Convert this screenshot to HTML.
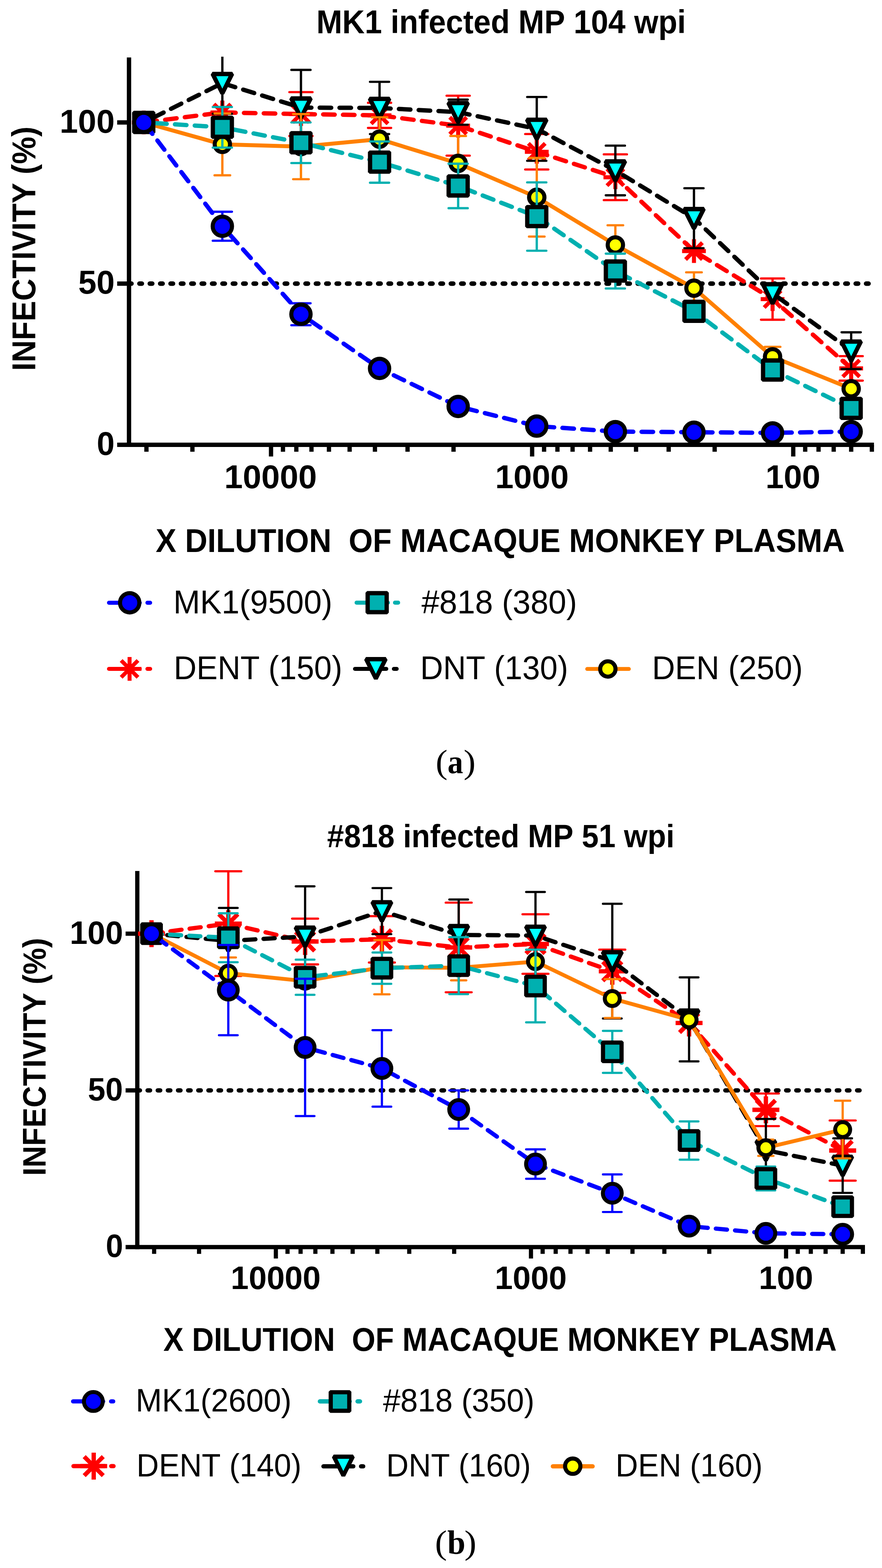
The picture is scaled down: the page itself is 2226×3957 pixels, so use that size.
<!DOCTYPE html>
<html><head><meta charset="utf-8"><title>Infectivity charts</title>
<style>html,body{margin:0;padding:0;background:#fff;}svg{display:block;}text{font-kerning:none;}</style>
</head><body>
<svg width="2226" height="3957" viewBox="0 0 2226 3957">
<g stroke="#000" stroke-width="11" fill="none">
<line x1="325.6" y1="145" x2="325.6" y2="1128"/>
<line x1="295.7" y1="1122.5" x2="2205.7" y2="1122.5"/>
<line x1="295.7" y1="715.75" x2="325.6" y2="715.75"/>
<line x1="295.7" y1="309" x2="325.6" y2="309"/>
</g>
<g fill="#000">
<rect x="678.6" y="1122.5" width="10.8" height="29.5"/>
<rect x="480.22" y="1122.5" width="10.8" height="17.5"/>
<rect x="364.18" y="1122.5" width="10.8" height="17.5"/>
<rect x="1337.6" y="1122.5" width="10.8" height="29.5"/>
<rect x="1139.22" y="1122.5" width="10.8" height="17.5"/>
<rect x="1023.18" y="1122.5" width="10.8" height="17.5"/>
<rect x="940.84" y="1122.5" width="10.8" height="17.5"/>
<rect x="876.98" y="1122.5" width="10.8" height="17.5"/>
<rect x="824.8" y="1122.5" width="10.8" height="17.5"/>
<rect x="780.68" y="1122.5" width="10.8" height="17.5"/>
<rect x="742.46" y="1122.5" width="10.8" height="17.5"/>
<rect x="708.75" y="1122.5" width="10.8" height="17.5"/>
<rect x="1996.6" y="1122.5" width="10.8" height="29.5"/>
<rect x="1798.22" y="1122.5" width="10.8" height="17.5"/>
<rect x="1682.18" y="1122.5" width="10.8" height="17.5"/>
<rect x="1599.84" y="1122.5" width="10.8" height="17.5"/>
<rect x="1535.98" y="1122.5" width="10.8" height="17.5"/>
<rect x="1483.8" y="1122.5" width="10.8" height="17.5"/>
<rect x="1439.68" y="1122.5" width="10.8" height="17.5"/>
<rect x="1401.46" y="1122.5" width="10.8" height="17.5"/>
<rect x="1367.75" y="1122.5" width="10.8" height="17.5"/>
<rect x="2194.98" y="1122.5" width="10.8" height="17.5"/>
<rect x="2142.8" y="1122.5" width="10.8" height="17.5"/>
<rect x="2098.68" y="1122.5" width="10.8" height="17.5"/>
<rect x="2060.46" y="1122.5" width="10.8" height="17.5"/>
<rect x="2026.75" y="1122.5" width="10.8" height="17.5"/>
</g>
<text x="150.55" y="334.7" font-family="'Liberation Sans', Arial, sans-serif" font-size="83.33" font-weight="bold" textLength="138.96" lengthAdjust="spacingAndGlyphs" xml:space="preserve">100</text>
<text x="197.46" y="741" font-family="'Liberation Sans', Arial, sans-serif" font-size="83.33" font-weight="bold" textLength="91.93" lengthAdjust="spacingAndGlyphs" xml:space="preserve">50</text>
<text x="244.3" y="1148.2" font-family="'Liberation Sans', Arial, sans-serif" font-size="83.33" font-weight="bold" textLength="45.02" lengthAdjust="spacingAndGlyphs" xml:space="preserve">0</text>
<text x="565.91" y="1231.7" font-family="'Liberation Sans', Arial, sans-serif" font-size="83.33" font-weight="bold" textLength="233.74" lengthAdjust="spacingAndGlyphs" xml:space="preserve">10000</text>
<text x="1249.64" y="1231.9" font-family="'Liberation Sans', Arial, sans-serif" font-size="83.33" font-weight="bold" textLength="185.79" lengthAdjust="spacingAndGlyphs" xml:space="preserve">1000</text>
<text x="1931.97" y="1232.2" font-family="'Liberation Sans', Arial, sans-serif" font-size="83.33" font-weight="bold" textLength="138.43" lengthAdjust="spacingAndGlyphs" xml:space="preserve">100</text>
<line x1="325.6" y1="715.75" x2="2199.7" y2="715.75" stroke="#000" stroke-width="11.3" stroke-linecap="round" stroke-dasharray="6.3 19.9" stroke-dashoffset="0"/>
<defs><clipPath id="aclip"><rect x="0" y="143" width="2226" height="3000"/></clipPath></defs>
<path d="M2148.2,929.7 L1949.82,754.8 L1751.44,633.59 L1553.06,447.3 L1354.68,383.03 L1156.3,317.13 L957.93,291.1 L759.55,287.85 L561.17,283.78 L362.79,309" fill="none" stroke="#ff0000" stroke-width="11" stroke-linecap="round" stroke-linejoin="round" stroke-dasharray="29 21"/>
<g stroke="#ff0000" clip-path="url(#aclip)"><line x1="759.55" y1="232.53" x2="759.55" y2="343.17" stroke-width="5.8"/><line x1="730.35" y1="232.53" x2="788.75" y2="232.53" stroke-width="5.6" stroke-linecap="round"/><line x1="730.35" y1="343.17" x2="788.75" y2="343.17" stroke-width="5.6" stroke-linecap="round"/><line x1="957.93" y1="259.38" x2="957.93" y2="322.83" stroke-width="5.8"/><line x1="928.73" y1="259.38" x2="987.13" y2="259.38" stroke-width="5.6" stroke-linecap="round"/><line x1="928.73" y1="322.83" x2="987.13" y2="322.83" stroke-width="5.6" stroke-linecap="round"/><line x1="1156.3" y1="241.48" x2="1156.3" y2="392.79" stroke-width="5.8"/><line x1="1127.1" y1="241.48" x2="1185.5" y2="241.48" stroke-width="5.6" stroke-linecap="round"/><line x1="1127.1" y1="392.79" x2="1185.5" y2="392.79" stroke-width="5.6" stroke-linecap="round"/><line x1="1354.68" y1="338.29" x2="1354.68" y2="427.77" stroke-width="5.8"/><line x1="1325.48" y1="338.29" x2="1383.88" y2="338.29" stroke-width="5.6" stroke-linecap="round"/><line x1="1325.48" y1="427.77" x2="1383.88" y2="427.77" stroke-width="5.6" stroke-linecap="round"/><line x1="1553.06" y1="389.54" x2="1553.06" y2="505.05" stroke-width="5.8"/><line x1="1523.86" y1="389.54" x2="1582.26" y2="389.54" stroke-width="5.6" stroke-linecap="round"/><line x1="1523.86" y1="505.05" x2="1582.26" y2="505.05" stroke-width="5.6" stroke-linecap="round"/><line x1="1949.82" y1="702.73" x2="1949.82" y2="806.86" stroke-width="5.8"/><line x1="1920.62" y1="702.73" x2="1979.02" y2="702.73" stroke-width="5.6" stroke-linecap="round"/><line x1="1920.62" y1="806.86" x2="1979.02" y2="806.86" stroke-width="5.6" stroke-linecap="round"/><line x1="2148.2" y1="898.79" x2="2148.2" y2="960.61" stroke-width="5.8"/><line x1="2119" y1="898.79" x2="2177.4" y2="898.79" stroke-width="5.6" stroke-linecap="round"/><line x1="2119" y1="960.61" x2="2177.4" y2="960.61" stroke-width="5.6" stroke-linecap="round"/></g>
<line x1="332.79" y1="309" x2="392.79" y2="309" stroke="#ff0000" stroke-width="10.2"/><line x1="362.79" y1="279" x2="362.79" y2="339" stroke="#ff0000" stroke-width="10.2"/><line x1="341.58" y1="287.79" x2="384" y2="330.21" stroke="#ff0000" stroke-width="10.2"/><line x1="341.58" y1="330.21" x2="384" y2="287.79" stroke="#ff0000" stroke-width="10.2"/>
<line x1="531.17" y1="283.78" x2="591.17" y2="283.78" stroke="#ff0000" stroke-width="10.2"/><line x1="561.17" y1="253.78" x2="561.17" y2="313.78" stroke="#ff0000" stroke-width="10.2"/><line x1="539.95" y1="262.57" x2="582.38" y2="304.99" stroke="#ff0000" stroke-width="10.2"/><line x1="539.95" y1="304.99" x2="582.38" y2="262.57" stroke="#ff0000" stroke-width="10.2"/>
<line x1="729.55" y1="287.85" x2="789.55" y2="287.85" stroke="#ff0000" stroke-width="10.2"/><line x1="759.55" y1="257.85" x2="759.55" y2="317.85" stroke="#ff0000" stroke-width="10.2"/><line x1="738.33" y1="266.64" x2="780.76" y2="309.06" stroke="#ff0000" stroke-width="10.2"/><line x1="738.33" y1="309.06" x2="780.76" y2="266.64" stroke="#ff0000" stroke-width="10.2"/>
<line x1="927.93" y1="291.1" x2="987.93" y2="291.1" stroke="#ff0000" stroke-width="10.2"/><line x1="957.93" y1="261.1" x2="957.93" y2="321.1" stroke="#ff0000" stroke-width="10.2"/><line x1="936.71" y1="269.89" x2="979.14" y2="312.32" stroke="#ff0000" stroke-width="10.2"/><line x1="936.71" y1="312.32" x2="979.14" y2="269.89" stroke="#ff0000" stroke-width="10.2"/>
<line x1="1126.3" y1="317.13" x2="1186.3" y2="317.13" stroke="#ff0000" stroke-width="10.2"/><line x1="1156.3" y1="287.13" x2="1156.3" y2="347.13" stroke="#ff0000" stroke-width="10.2"/><line x1="1135.09" y1="295.92" x2="1177.52" y2="338.35" stroke="#ff0000" stroke-width="10.2"/><line x1="1135.09" y1="338.35" x2="1177.52" y2="295.92" stroke="#ff0000" stroke-width="10.2"/>
<line x1="1324.68" y1="383.03" x2="1384.68" y2="383.03" stroke="#ff0000" stroke-width="10.2"/><line x1="1354.68" y1="353.03" x2="1354.68" y2="413.03" stroke="#ff0000" stroke-width="10.2"/><line x1="1333.47" y1="361.82" x2="1375.9" y2="404.24" stroke="#ff0000" stroke-width="10.2"/><line x1="1333.47" y1="404.24" x2="1375.9" y2="361.82" stroke="#ff0000" stroke-width="10.2"/>
<line x1="1523.06" y1="447.3" x2="1583.06" y2="447.3" stroke="#ff0000" stroke-width="10.2"/><line x1="1553.06" y1="417.3" x2="1553.06" y2="477.3" stroke="#ff0000" stroke-width="10.2"/><line x1="1531.85" y1="426.08" x2="1574.28" y2="468.51" stroke="#ff0000" stroke-width="10.2"/><line x1="1531.85" y1="468.51" x2="1574.28" y2="426.08" stroke="#ff0000" stroke-width="10.2"/>
<line x1="1721.44" y1="633.59" x2="1781.44" y2="633.59" stroke="#ff0000" stroke-width="10.2"/><line x1="1751.44" y1="603.59" x2="1751.44" y2="663.59" stroke="#ff0000" stroke-width="10.2"/><line x1="1730.23" y1="612.37" x2="1772.65" y2="654.8" stroke="#ff0000" stroke-width="10.2"/><line x1="1730.23" y1="654.8" x2="1772.65" y2="612.37" stroke="#ff0000" stroke-width="10.2"/>
<line x1="1919.82" y1="754.8" x2="1979.82" y2="754.8" stroke="#ff0000" stroke-width="10.2"/><line x1="1949.82" y1="724.8" x2="1949.82" y2="784.8" stroke="#ff0000" stroke-width="10.2"/><line x1="1928.61" y1="733.58" x2="1971.03" y2="776.01" stroke="#ff0000" stroke-width="10.2"/><line x1="1928.61" y1="776.01" x2="1971.03" y2="733.58" stroke="#ff0000" stroke-width="10.2"/>
<line x1="2118.2" y1="929.7" x2="2178.2" y2="929.7" stroke="#ff0000" stroke-width="10.2"/><line x1="2148.2" y1="899.7" x2="2148.2" y2="959.7" stroke="#ff0000" stroke-width="10.2"/><line x1="2126.99" y1="908.49" x2="2169.41" y2="950.91" stroke="#ff0000" stroke-width="10.2"/><line x1="2126.99" y1="950.91" x2="2169.41" y2="908.49" stroke="#ff0000" stroke-width="10.2"/>
<path d="M2148.2,884.96 L1949.82,740.15 L1751.44,550.61 L1553.06,430.21 L1354.68,325.27 L1156.3,282.97 L957.93,272.39 L759.55,271.58 L561.17,209.75 L362.79,309" fill="none" stroke="#000000" stroke-width="11" stroke-linecap="round" stroke-linejoin="round" stroke-dasharray="29 21"/>
<g stroke="#000000" clip-path="url(#aclip)"><line x1="561.17" y1="132.47" x2="561.17" y2="287.04" stroke-width="5.8"/><line x1="536.97" y1="132.47" x2="585.37" y2="132.47" stroke-width="5.6" stroke-linecap="round"/><line x1="536.97" y1="287.04" x2="585.37" y2="287.04" stroke-width="5.6" stroke-linecap="round"/><line x1="759.55" y1="176.4" x2="759.55" y2="366.76" stroke-width="5.8"/><line x1="735.35" y1="176.4" x2="783.75" y2="176.4" stroke-width="5.6" stroke-linecap="round"/><line x1="735.35" y1="366.76" x2="783.75" y2="366.76" stroke-width="5.6" stroke-linecap="round"/><line x1="957.93" y1="206.5" x2="957.93" y2="338.29" stroke-width="5.8"/><line x1="933.73" y1="206.5" x2="982.13" y2="206.5" stroke-width="5.6" stroke-linecap="round"/><line x1="933.73" y1="338.29" x2="982.13" y2="338.29" stroke-width="5.6" stroke-linecap="round"/><line x1="1156.3" y1="251.24" x2="1156.3" y2="314.69" stroke-width="5.8"/><line x1="1132.1" y1="251.24" x2="1180.5" y2="251.24" stroke-width="5.6" stroke-linecap="round"/><line x1="1132.1" y1="314.69" x2="1180.5" y2="314.69" stroke-width="5.6" stroke-linecap="round"/><line x1="1354.68" y1="244.73" x2="1354.68" y2="405.81" stroke-width="5.8"/><line x1="1330.48" y1="244.73" x2="1378.88" y2="244.73" stroke-width="5.6" stroke-linecap="round"/><line x1="1330.48" y1="405.81" x2="1378.88" y2="405.81" stroke-width="5.6" stroke-linecap="round"/><line x1="1553.06" y1="367.57" x2="1553.06" y2="492.85" stroke-width="5.8"/><line x1="1528.86" y1="367.57" x2="1577.26" y2="367.57" stroke-width="5.6" stroke-linecap="round"/><line x1="1528.86" y1="492.85" x2="1577.26" y2="492.85" stroke-width="5.6" stroke-linecap="round"/><line x1="1751.44" y1="474.95" x2="1751.44" y2="626.26" stroke-width="5.8"/><line x1="1727.24" y1="474.95" x2="1775.64" y2="474.95" stroke-width="5.6" stroke-linecap="round"/><line x1="1727.24" y1="626.26" x2="1775.64" y2="626.26" stroke-width="5.6" stroke-linecap="round"/><line x1="2148.2" y1="838.59" x2="2148.2" y2="931.33" stroke-width="5.8"/><line x1="2124" y1="838.59" x2="2172.4" y2="838.59" stroke-width="5.6" stroke-linecap="round"/><line x1="2124" y1="931.33" x2="2172.4" y2="931.33" stroke-width="5.6" stroke-linecap="round"/></g>
<polygon points="337.79,280.5 387.79,280.5 392.29,288 367.39,337.5 358.19,337.5 333.29,288" fill="#000"/><polygon points="347.19,291.6 378.39,291.6 362.79,323" fill="#00ffff"/>
<polygon points="536.17,181.25 586.17,181.25 590.67,188.75 565.77,238.25 556.57,238.25 531.67,188.75" fill="#000"/><polygon points="545.57,192.35 576.77,192.35 561.17,223.75" fill="#00ffff"/>
<polygon points="734.55,243.08 784.55,243.08 789.05,250.58 764.15,300.08 754.95,300.08 730.05,250.58" fill="#000"/><polygon points="743.95,254.18 775.15,254.18 759.55,285.58" fill="#00ffff"/>
<polygon points="932.93,243.89 982.93,243.89 987.43,251.39 962.53,300.89 953.33,300.89 928.43,251.39" fill="#000"/><polygon points="942.33,254.99 973.53,254.99 957.93,286.39" fill="#00ffff"/>
<polygon points="1131.3,254.47 1181.3,254.47 1185.8,261.97 1160.9,311.47 1151.7,311.47 1126.8,261.97" fill="#000"/><polygon points="1140.7,265.57 1171.9,265.57 1156.3,296.97" fill="#00ffff"/>
<polygon points="1329.68,296.77 1379.68,296.77 1384.18,304.27 1359.28,353.77 1350.08,353.77 1325.18,304.27" fill="#000"/><polygon points="1339.08,307.87 1370.28,307.87 1354.68,339.27" fill="#00ffff"/>
<polygon points="1528.06,401.71 1578.06,401.71 1582.56,409.21 1557.66,458.71 1548.46,458.71 1523.56,409.21" fill="#000"/><polygon points="1537.46,412.81 1568.66,412.81 1553.06,444.21" fill="#00ffff"/>
<polygon points="1726.44,522.11 1776.44,522.11 1780.94,529.61 1756.04,579.11 1746.84,579.11 1721.94,529.61" fill="#000"/><polygon points="1735.84,533.21 1767.04,533.21 1751.44,564.61" fill="#00ffff"/>
<polygon points="1924.82,711.65 1974.82,711.65 1979.32,719.15 1954.42,768.65 1945.22,768.65 1920.32,719.15" fill="#000"/><polygon points="1934.22,722.75 1965.42,722.75 1949.82,754.15" fill="#00ffff"/>
<polygon points="2123.2,856.46 2173.2,856.46 2177.7,863.96 2152.8,913.46 2143.6,913.46 2118.7,863.96" fill="#000"/><polygon points="2132.6,867.56 2163.8,867.56 2148.2,898.96" fill="#00ffff"/>
<path d="M2148.2,980.95 L1949.82,900.41 L1751.44,727.14 L1553.06,618.13 L1354.68,497.73 L1156.3,412.31 L957.93,351.3 L759.55,370.01 L561.17,364.32 L362.79,309" fill="none" stroke="#ff8000" stroke-width="10" stroke-linejoin="round"/>
<g stroke="#ff8000" clip-path="url(#aclip)"><line x1="561.17" y1="286.22" x2="561.17" y2="442.41" stroke-width="5.8"/><line x1="541.47" y1="286.22" x2="580.87" y2="286.22" stroke-width="5.6" stroke-linecap="round"/><line x1="541.47" y1="442.41" x2="580.87" y2="442.41" stroke-width="5.6" stroke-linecap="round"/><line x1="759.55" y1="287.85" x2="759.55" y2="452.18" stroke-width="5.8"/><line x1="739.85" y1="287.85" x2="779.25" y2="287.85" stroke-width="5.6" stroke-linecap="round"/><line x1="739.85" y1="452.18" x2="779.25" y2="452.18" stroke-width="5.6" stroke-linecap="round"/><line x1="957.93" y1="295.98" x2="957.93" y2="406.62" stroke-width="5.8"/><line x1="938.23" y1="295.98" x2="977.63" y2="295.98" stroke-width="5.6" stroke-linecap="round"/><line x1="938.23" y1="406.62" x2="977.63" y2="406.62" stroke-width="5.6" stroke-linecap="round"/><line x1="1156.3" y1="343.17" x2="1156.3" y2="481.46" stroke-width="5.8"/><line x1="1136.6" y1="343.17" x2="1176" y2="343.17" stroke-width="5.6" stroke-linecap="round"/><line x1="1136.6" y1="481.46" x2="1176" y2="481.46" stroke-width="5.6" stroke-linecap="round"/><line x1="1354.68" y1="398.49" x2="1354.68" y2="596.98" stroke-width="5.8"/><line x1="1334.98" y1="398.49" x2="1374.38" y2="398.49" stroke-width="5.6" stroke-linecap="round"/><line x1="1334.98" y1="596.98" x2="1374.38" y2="596.98" stroke-width="5.6" stroke-linecap="round"/><line x1="1553.06" y1="568.51" x2="1553.06" y2="667.75" stroke-width="5.8"/><line x1="1533.36" y1="568.51" x2="1572.76" y2="568.51" stroke-width="5.6" stroke-linecap="round"/><line x1="1533.36" y1="667.75" x2="1572.76" y2="667.75" stroke-width="5.6" stroke-linecap="round"/><line x1="1751.44" y1="687.28" x2="1751.44" y2="767" stroke-width="5.8"/><line x1="1731.74" y1="687.28" x2="1771.14" y2="687.28" stroke-width="5.6" stroke-linecap="round"/><line x1="1731.74" y1="767" x2="1771.14" y2="767" stroke-width="5.6" stroke-linecap="round"/><line x1="1949.82" y1="875.2" x2="1949.82" y2="925.63" stroke-width="5.8"/><line x1="1930.12" y1="875.2" x2="1969.52" y2="875.2" stroke-width="5.6" stroke-linecap="round"/><line x1="1930.12" y1="925.63" x2="1969.52" y2="925.63" stroke-width="5.6" stroke-linecap="round"/><line x1="2148.2" y1="974.44" x2="2148.2" y2="987.46" stroke-width="5.8"/><line x1="2128.5" y1="974.44" x2="2167.9" y2="974.44" stroke-width="5.6" stroke-linecap="round"/><line x1="2128.5" y1="987.46" x2="2167.9" y2="987.46" stroke-width="5.6" stroke-linecap="round"/></g>
<circle cx="362.79" cy="309" r="19.35" fill="#ffff00" stroke="#000" stroke-width="10.3"/>
<circle cx="561.17" cy="364.32" r="19.35" fill="#ffff00" stroke="#000" stroke-width="10.3"/>
<circle cx="759.55" cy="370.01" r="19.35" fill="#ffff00" stroke="#000" stroke-width="10.3"/>
<circle cx="957.93" cy="351.3" r="19.35" fill="#ffff00" stroke="#000" stroke-width="10.3"/>
<circle cx="1156.3" cy="412.31" r="19.35" fill="#ffff00" stroke="#000" stroke-width="10.3"/>
<circle cx="1354.68" cy="497.73" r="19.35" fill="#ffff00" stroke="#000" stroke-width="10.3"/>
<circle cx="1553.06" cy="618.13" r="19.35" fill="#ffff00" stroke="#000" stroke-width="10.3"/>
<circle cx="1751.44" cy="727.14" r="19.35" fill="#ffff00" stroke="#000" stroke-width="10.3"/>
<circle cx="1949.82" cy="900.41" r="19.35" fill="#ffff00" stroke="#000" stroke-width="10.3"/>
<circle cx="2148.2" cy="980.95" r="19.35" fill="#ffff00" stroke="#000" stroke-width="10.3"/>
<path d="M2148.2,1030.57 L1949.82,933.77 L1751.44,785.71 L1553.06,684.02 L1354.68,546.54 L1156.3,469.26 L957.93,409.06 L759.55,360.25 L561.17,321.2 L362.79,309" fill="none" stroke="#00b0b0" stroke-width="11" stroke-linecap="round" stroke-linejoin="round" stroke-dasharray="29 21"/>
<g stroke="#00b0b0" clip-path="url(#aclip)"><line x1="561.17" y1="269.95" x2="561.17" y2="372.45" stroke-width="5.8"/><line x1="536.97" y1="269.95" x2="585.37" y2="269.95" stroke-width="5.6" stroke-linecap="round"/><line x1="536.97" y1="372.45" x2="585.37" y2="372.45" stroke-width="5.6" stroke-linecap="round"/><line x1="759.55" y1="309" x2="759.55" y2="411.5" stroke-width="5.8"/><line x1="735.35" y1="309" x2="783.75" y2="309" stroke-width="5.6" stroke-linecap="round"/><line x1="735.35" y1="411.5" x2="783.75" y2="411.5" stroke-width="5.6" stroke-linecap="round"/><line x1="957.93" y1="357" x2="957.93" y2="461.12" stroke-width="5.8"/><line x1="933.73" y1="357" x2="982.13" y2="357" stroke-width="5.6" stroke-linecap="round"/><line x1="933.73" y1="461.12" x2="982.13" y2="461.12" stroke-width="5.6" stroke-linecap="round"/><line x1="1156.3" y1="413.13" x2="1156.3" y2="525.39" stroke-width="5.8"/><line x1="1132.1" y1="413.13" x2="1180.5" y2="413.13" stroke-width="5.6" stroke-linecap="round"/><line x1="1132.1" y1="525.39" x2="1180.5" y2="525.39" stroke-width="5.6" stroke-linecap="round"/><line x1="1354.68" y1="460.31" x2="1354.68" y2="632.77" stroke-width="5.8"/><line x1="1330.48" y1="460.31" x2="1378.88" y2="460.31" stroke-width="5.6" stroke-linecap="round"/><line x1="1330.48" y1="632.77" x2="1378.88" y2="632.77" stroke-width="5.6" stroke-linecap="round"/><line x1="1553.06" y1="640.09" x2="1553.06" y2="727.95" stroke-width="5.8"/><line x1="1528.86" y1="640.09" x2="1577.26" y2="640.09" stroke-width="5.6" stroke-linecap="round"/><line x1="1528.86" y1="727.95" x2="1577.26" y2="727.95" stroke-width="5.6" stroke-linecap="round"/><line x1="1751.44" y1="769.44" x2="1751.44" y2="801.98" stroke-width="5.8"/><line x1="1727.24" y1="769.44" x2="1775.64" y2="769.44" stroke-width="5.6" stroke-linecap="round"/><line x1="1727.24" y1="801.98" x2="1775.64" y2="801.98" stroke-width="5.6" stroke-linecap="round"/><line x1="1949.82" y1="917.5" x2="1949.82" y2="950.04" stroke-width="5.8"/><line x1="1925.62" y1="917.5" x2="1974.02" y2="917.5" stroke-width="5.6" stroke-linecap="round"/><line x1="1925.62" y1="950.04" x2="1974.02" y2="950.04" stroke-width="5.6" stroke-linecap="round"/><line x1="2148.2" y1="1014.3" x2="2148.2" y2="1046.84" stroke-width="5.8"/><line x1="2124" y1="1014.3" x2="2172.4" y2="1014.3" stroke-width="5.6" stroke-linecap="round"/><line x1="2124" y1="1046.84" x2="2172.4" y2="1046.84" stroke-width="5.6" stroke-linecap="round"/></g>
<polygon points="337.59,279.6 387.99,279.6 392.19,283.8 392.19,334.2 387.99,338.4 337.59,338.4 333.39,334.2 333.39,283.8" fill="#000"/><rect x="344.19" y="290.4" width="37.2" height="37.2" fill="#00b0b0"/>
<polygon points="535.97,291.8 586.37,291.8 590.57,296 590.57,346.4 586.37,350.6 535.97,350.6 531.77,346.4 531.77,296" fill="#000"/><rect x="542.57" y="302.6" width="37.2" height="37.2" fill="#00b0b0"/>
<polygon points="734.35,330.85 784.75,330.85 788.95,335.05 788.95,385.45 784.75,389.65 734.35,389.65 730.15,385.45 730.15,335.05" fill="#000"/><rect x="740.95" y="341.65" width="37.2" height="37.2" fill="#00b0b0"/>
<polygon points="932.73,379.66 983.13,379.66 987.33,383.86 987.33,434.26 983.13,438.46 932.73,438.46 928.53,434.26 928.53,383.86" fill="#000"/><rect x="939.33" y="390.46" width="37.2" height="37.2" fill="#00b0b0"/>
<polygon points="1131.1,439.86 1181.5,439.86 1185.7,444.06 1185.7,494.46 1181.5,498.66 1131.1,498.66 1126.9,494.46 1126.9,444.06" fill="#000"/><rect x="1137.7" y="450.66" width="37.2" height="37.2" fill="#00b0b0"/>
<polygon points="1329.48,517.14 1379.88,517.14 1384.08,521.34 1384.08,571.74 1379.88,575.94 1329.48,575.94 1325.28,571.74 1325.28,521.34" fill="#000"/><rect x="1336.08" y="527.94" width="37.2" height="37.2" fill="#00b0b0"/>
<polygon points="1527.86,654.62 1578.26,654.62 1582.46,658.82 1582.46,709.22 1578.26,713.42 1527.86,713.42 1523.66,709.22 1523.66,658.82" fill="#000"/><rect x="1534.46" y="665.42" width="37.2" height="37.2" fill="#00b0b0"/>
<polygon points="1726.24,756.31 1776.64,756.31 1780.84,760.51 1780.84,810.91 1776.64,815.11 1726.24,815.11 1722.04,810.91 1722.04,760.51" fill="#000"/><rect x="1732.84" y="767.11" width="37.2" height="37.2" fill="#00b0b0"/>
<polygon points="1924.62,904.37 1975.02,904.37 1979.22,908.57 1979.22,958.97 1975.02,963.17 1924.62,963.17 1920.42,958.97 1920.42,908.57" fill="#000"/><rect x="1931.22" y="915.17" width="37.2" height="37.2" fill="#00b0b0"/>
<polygon points="2123,1001.17 2173.4,1001.17 2177.6,1005.37 2177.6,1055.77 2173.4,1059.97 2123,1059.97 2118.8,1055.77 2118.8,1005.37" fill="#000"/><rect x="2129.6" y="1011.97" width="37.2" height="37.2" fill="#00b0b0"/>
<path d="M2148.2,1089.15 L1949.82,1092.4 L1751.44,1090.77 L1553.06,1089.15 L1354.68,1075.32 L1156.3,1025.69 L957.93,929.7 L759.55,793.03 L561.17,570.95 L362.79,309" fill="none" stroke="#0000ff" stroke-width="11" stroke-linecap="round" stroke-linejoin="round" stroke-dasharray="29 21"/>
<g stroke="#0000ff" clip-path="url(#aclip)"><line x1="561.17" y1="534.34" x2="561.17" y2="607.55" stroke-width="5.8"/><line x1="536.97" y1="534.34" x2="585.37" y2="534.34" stroke-width="5.6" stroke-linecap="round"/><line x1="536.97" y1="607.55" x2="585.37" y2="607.55" stroke-width="5.6" stroke-linecap="round"/><line x1="759.55" y1="765.37" x2="759.55" y2="820.69" stroke-width="5.8"/><line x1="735.35" y1="765.37" x2="783.75" y2="765.37" stroke-width="5.6" stroke-linecap="round"/><line x1="735.35" y1="820.69" x2="783.75" y2="820.69" stroke-width="5.6" stroke-linecap="round"/><line x1="957.93" y1="921.57" x2="957.93" y2="937.84" stroke-width="5.8"/><line x1="933.73" y1="921.57" x2="982.13" y2="921.57" stroke-width="5.6" stroke-linecap="round"/><line x1="933.73" y1="937.84" x2="982.13" y2="937.84" stroke-width="5.6" stroke-linecap="round"/><line x1="1156.3" y1="1017.56" x2="1156.3" y2="1033.83" stroke-width="5.8"/><line x1="1132.1" y1="1017.56" x2="1180.5" y2="1017.56" stroke-width="5.6" stroke-linecap="round"/><line x1="1132.1" y1="1033.83" x2="1180.5" y2="1033.83" stroke-width="5.6" stroke-linecap="round"/><line x1="1354.68" y1="1068.81" x2="1354.68" y2="1081.83" stroke-width="5.8"/><line x1="1330.48" y1="1068.81" x2="1378.88" y2="1068.81" stroke-width="5.6" stroke-linecap="round"/><line x1="1330.48" y1="1081.83" x2="1378.88" y2="1081.83" stroke-width="5.6" stroke-linecap="round"/><line x1="1553.06" y1="1085.08" x2="1553.06" y2="1093.21" stroke-width="5.8"/><line x1="1528.86" y1="1085.08" x2="1577.26" y2="1085.08" stroke-width="5.6" stroke-linecap="round"/><line x1="1528.86" y1="1093.21" x2="1577.26" y2="1093.21" stroke-width="5.6" stroke-linecap="round"/><line x1="1751.44" y1="1086.71" x2="1751.44" y2="1094.84" stroke-width="5.8"/><line x1="1727.24" y1="1086.71" x2="1775.64" y2="1086.71" stroke-width="5.6" stroke-linecap="round"/><line x1="1727.24" y1="1094.84" x2="1775.64" y2="1094.84" stroke-width="5.6" stroke-linecap="round"/><line x1="1949.82" y1="1088.33" x2="1949.82" y2="1096.47" stroke-width="5.8"/><line x1="1925.62" y1="1088.33" x2="1974.02" y2="1088.33" stroke-width="5.6" stroke-linecap="round"/><line x1="1925.62" y1="1096.47" x2="1974.02" y2="1096.47" stroke-width="5.6" stroke-linecap="round"/><line x1="2148.2" y1="1085.08" x2="2148.2" y2="1093.21" stroke-width="5.8"/><line x1="2124" y1="1085.08" x2="2172.4" y2="1085.08" stroke-width="5.6" stroke-linecap="round"/><line x1="2124" y1="1093.21" x2="2172.4" y2="1093.21" stroke-width="5.6" stroke-linecap="round"/></g>
<circle cx="362.79" cy="309" r="24.35" fill="#0000ff" stroke="#000" stroke-width="10.3"/>
<circle cx="561.17" cy="570.95" r="24.35" fill="#0000ff" stroke="#000" stroke-width="10.3"/>
<circle cx="759.55" cy="793.03" r="24.35" fill="#0000ff" stroke="#000" stroke-width="10.3"/>
<circle cx="957.93" cy="929.7" r="24.35" fill="#0000ff" stroke="#000" stroke-width="10.3"/>
<circle cx="1156.3" cy="1025.69" r="24.35" fill="#0000ff" stroke="#000" stroke-width="10.3"/>
<circle cx="1354.68" cy="1075.32" r="24.35" fill="#0000ff" stroke="#000" stroke-width="10.3"/>
<circle cx="1553.06" cy="1089.15" r="24.35" fill="#0000ff" stroke="#000" stroke-width="10.3"/>
<circle cx="1751.44" cy="1090.77" r="24.35" fill="#0000ff" stroke="#000" stroke-width="10.3"/>
<circle cx="1949.82" cy="1092.4" r="24.35" fill="#0000ff" stroke="#000" stroke-width="10.3"/>
<circle cx="2148.2" cy="1089.15" r="24.35" fill="#0000ff" stroke="#000" stroke-width="10.3"/>
<g stroke="#000" stroke-width="10.72" fill="none">
<line x1="346.5" y1="2198" x2="346.5" y2="3152.56"/>
<line x1="317" y1="3147.2" x2="2183" y2="3147.2"/>
<line x1="317" y1="2751.7" x2="346.5" y2="2751.7"/>
<line x1="317" y1="2356.2" x2="346.5" y2="2356.2"/>
</g>
<g fill="#000">
<rect x="690.94" y="3147.2" width="10.53" height="28.76"/>
<rect x="497.12" y="3147.2" width="10.53" height="17.06"/>
<rect x="383.74" y="3147.2" width="10.53" height="17.06"/>
<rect x="1334.79" y="3147.2" width="10.53" height="28.76"/>
<rect x="1140.97" y="3147.2" width="10.53" height="17.06"/>
<rect x="1027.59" y="3147.2" width="10.53" height="17.06"/>
<rect x="947.15" y="3147.2" width="10.53" height="17.06"/>
<rect x="884.75" y="3147.2" width="10.53" height="17.06"/>
<rect x="833.77" y="3147.2" width="10.53" height="17.06"/>
<rect x="790.67" y="3147.2" width="10.53" height="17.06"/>
<rect x="753.33" y="3147.2" width="10.53" height="17.06"/>
<rect x="720.4" y="3147.2" width="10.53" height="17.06"/>
<rect x="1978.63" y="3147.2" width="10.53" height="28.76"/>
<rect x="1784.82" y="3147.2" width="10.53" height="17.06"/>
<rect x="1671.44" y="3147.2" width="10.53" height="17.06"/>
<rect x="1591" y="3147.2" width="10.53" height="17.06"/>
<rect x="1528.6" y="3147.2" width="10.53" height="17.06"/>
<rect x="1477.62" y="3147.2" width="10.53" height="17.06"/>
<rect x="1434.52" y="3147.2" width="10.53" height="17.06"/>
<rect x="1397.18" y="3147.2" width="10.53" height="17.06"/>
<rect x="1364.25" y="3147.2" width="10.53" height="17.06"/>
<rect x="2172.45" y="3147.2" width="10.53" height="17.06"/>
<rect x="2121.47" y="3147.2" width="10.53" height="17.06"/>
<rect x="2078.37" y="3147.2" width="10.53" height="17.06"/>
<rect x="2041.03" y="3147.2" width="10.53" height="17.06"/>
<rect x="2008.1" y="3147.2" width="10.53" height="17.06"/>
</g>
<text x="175.91" y="2382.2" font-family="'Liberation Sans', Arial, sans-serif" font-size="81.36" font-weight="bold" textLength="134.8" lengthAdjust="spacingAndGlyphs" xml:space="preserve">100</text>
<text x="221.65" y="2777" font-family="'Liberation Sans', Arial, sans-serif" font-size="81.36" font-weight="bold" textLength="88.51" lengthAdjust="spacingAndGlyphs" xml:space="preserve">50</text>
<text x="266.89" y="3172.1" font-family="'Liberation Sans', Arial, sans-serif" font-size="81.36" font-weight="bold" textLength="43.74" lengthAdjust="spacingAndGlyphs" xml:space="preserve">0</text>
<text x="582.36" y="3252.8" font-family="'Liberation Sans', Arial, sans-serif" font-size="81.36" font-weight="bold" textLength="226.99" lengthAdjust="spacingAndGlyphs" xml:space="preserve">10000</text>
<text x="1248.66" y="3252.9" font-family="'Liberation Sans', Arial, sans-serif" font-size="81.36" font-weight="bold" textLength="181.69" lengthAdjust="spacingAndGlyphs" xml:space="preserve">1000</text>
<text x="1915.01" y="3252.9" font-family="'Liberation Sans', Arial, sans-serif" font-size="81.36" font-weight="bold" textLength="137.36" lengthAdjust="spacingAndGlyphs" xml:space="preserve">100</text>
<line x1="346.5" y1="2751.7" x2="2177" y2="2751.7" stroke="#000" stroke-width="11.02" stroke-linecap="round" stroke-dasharray="6.14 19.44" stroke-dashoffset="-0.5"/>
<defs><clipPath id="bclip"><rect x="0" y="2196" width="2226" height="3000"/></clipPath></defs>
<path d="M2126.74,2903.57 L1932.92,2800.74 L1739.1,2581.63 L1545.28,2451.12 L1351.46,2382.3 L1157.65,2391 L963.83,2370.44 L770.01,2375.97 L576.19,2330.89 L382.37,2356.2" fill="none" stroke="#ff0000" stroke-width="10.72" stroke-linecap="round" stroke-linejoin="round" stroke-dasharray="28.27 20.47"/>
<g stroke="#ff0000" clip-path="url(#bclip)"><line x1="576.19" y1="2198.79" x2="576.19" y2="2462.98" stroke-width="5.65"/><line x1="543.42" y1="2198.79" x2="608.96" y2="2198.79" stroke-width="5.46" stroke-linecap="round"/><line x1="543.42" y1="2462.98" x2="608.96" y2="2462.98" stroke-width="5.46" stroke-linecap="round"/><line x1="770.01" y1="2318.23" x2="770.01" y2="2433.72" stroke-width="5.65"/><line x1="737.24" y1="2318.23" x2="802.78" y2="2318.23" stroke-width="5.46" stroke-linecap="round"/><line x1="737.24" y1="2433.72" x2="802.78" y2="2433.72" stroke-width="5.46" stroke-linecap="round"/><line x1="963.83" y1="2311.9" x2="963.83" y2="2428.97" stroke-width="5.65"/><line x1="931.06" y1="2311.9" x2="996.6" y2="2311.9" stroke-width="5.46" stroke-linecap="round"/><line x1="931.06" y1="2428.97" x2="996.6" y2="2428.97" stroke-width="5.46" stroke-linecap="round"/><line x1="1157.65" y1="2277.89" x2="1157.65" y2="2504.12" stroke-width="5.65"/><line x1="1124.88" y1="2277.89" x2="1190.42" y2="2277.89" stroke-width="5.46" stroke-linecap="round"/><line x1="1124.88" y1="2504.12" x2="1190.42" y2="2504.12" stroke-width="5.46" stroke-linecap="round"/><line x1="1351.46" y1="2307.16" x2="1351.46" y2="2457.45" stroke-width="5.65"/><line x1="1318.69" y1="2307.16" x2="1384.23" y2="2307.16" stroke-width="5.46" stroke-linecap="round"/><line x1="1318.69" y1="2457.45" x2="1384.23" y2="2457.45" stroke-width="5.46" stroke-linecap="round"/><line x1="1545.28" y1="2396.54" x2="1545.28" y2="2505.7" stroke-width="5.65"/><line x1="1512.51" y1="2396.54" x2="1578.05" y2="2396.54" stroke-width="5.46" stroke-linecap="round"/><line x1="1512.51" y1="2505.7" x2="1578.05" y2="2505.7" stroke-width="5.46" stroke-linecap="round"/><line x1="1932.92" y1="2759.61" x2="1932.92" y2="2841.87" stroke-width="5.65"/><line x1="1900.15" y1="2759.61" x2="1965.69" y2="2759.61" stroke-width="5.46" stroke-linecap="round"/><line x1="1900.15" y1="2841.87" x2="1965.69" y2="2841.87" stroke-width="5.46" stroke-linecap="round"/><line x1="2126.74" y1="2827.64" x2="2126.74" y2="2979.51" stroke-width="5.65"/><line x1="2093.97" y1="2827.64" x2="2159.51" y2="2827.64" stroke-width="5.46" stroke-linecap="round"/><line x1="2093.97" y1="2979.51" x2="2159.51" y2="2979.51" stroke-width="5.46" stroke-linecap="round"/></g>
<line x1="348.37" y1="2356.2" x2="416.37" y2="2356.2" stroke="#ff0000" stroke-width="10.9"/><line x1="382.37" y1="2322.2" x2="382.37" y2="2390.2" stroke="#ff0000" stroke-width="10.9"/><line x1="358.33" y1="2332.16" x2="406.42" y2="2380.24" stroke="#ff0000" stroke-width="10.9"/><line x1="358.33" y1="2380.24" x2="406.42" y2="2332.16" stroke="#ff0000" stroke-width="10.9"/>
<line x1="542.19" y1="2330.89" x2="610.19" y2="2330.89" stroke="#ff0000" stroke-width="10.9"/><line x1="576.19" y1="2296.89" x2="576.19" y2="2364.89" stroke="#ff0000" stroke-width="10.9"/><line x1="552.15" y1="2306.85" x2="600.23" y2="2354.93" stroke="#ff0000" stroke-width="10.9"/><line x1="552.15" y1="2354.93" x2="600.23" y2="2306.85" stroke="#ff0000" stroke-width="10.9"/>
<line x1="736.01" y1="2375.97" x2="804.01" y2="2375.97" stroke="#ff0000" stroke-width="10.9"/><line x1="770.01" y1="2341.97" x2="770.01" y2="2409.97" stroke="#ff0000" stroke-width="10.9"/><line x1="745.97" y1="2351.93" x2="794.05" y2="2400.02" stroke="#ff0000" stroke-width="10.9"/><line x1="745.97" y1="2400.02" x2="794.05" y2="2351.93" stroke="#ff0000" stroke-width="10.9"/>
<line x1="929.83" y1="2370.44" x2="997.83" y2="2370.44" stroke="#ff0000" stroke-width="10.9"/><line x1="963.83" y1="2336.44" x2="963.83" y2="2404.44" stroke="#ff0000" stroke-width="10.9"/><line x1="939.79" y1="2346.4" x2="987.87" y2="2394.48" stroke="#ff0000" stroke-width="10.9"/><line x1="939.79" y1="2394.48" x2="987.87" y2="2346.4" stroke="#ff0000" stroke-width="10.9"/>
<line x1="1123.65" y1="2391" x2="1191.65" y2="2391" stroke="#ff0000" stroke-width="10.9"/><line x1="1157.65" y1="2357" x2="1157.65" y2="2425" stroke="#ff0000" stroke-width="10.9"/><line x1="1133.6" y1="2366.96" x2="1181.69" y2="2415.05" stroke="#ff0000" stroke-width="10.9"/><line x1="1133.6" y1="2415.05" x2="1181.69" y2="2366.96" stroke="#ff0000" stroke-width="10.9"/>
<line x1="1317.46" y1="2382.3" x2="1385.46" y2="2382.3" stroke="#ff0000" stroke-width="10.9"/><line x1="1351.46" y1="2348.3" x2="1351.46" y2="2416.3" stroke="#ff0000" stroke-width="10.9"/><line x1="1327.42" y1="2358.26" x2="1375.51" y2="2406.34" stroke="#ff0000" stroke-width="10.9"/><line x1="1327.42" y1="2406.34" x2="1375.51" y2="2358.26" stroke="#ff0000" stroke-width="10.9"/>
<line x1="1511.28" y1="2451.12" x2="1579.28" y2="2451.12" stroke="#ff0000" stroke-width="10.9"/><line x1="1545.28" y1="2417.12" x2="1545.28" y2="2485.12" stroke="#ff0000" stroke-width="10.9"/><line x1="1521.24" y1="2427.08" x2="1569.32" y2="2475.16" stroke="#ff0000" stroke-width="10.9"/><line x1="1521.24" y1="2475.16" x2="1569.32" y2="2427.08" stroke="#ff0000" stroke-width="10.9"/>
<line x1="1705.1" y1="2581.63" x2="1773.1" y2="2581.63" stroke="#ff0000" stroke-width="10.9"/><line x1="1739.1" y1="2547.63" x2="1739.1" y2="2615.63" stroke="#ff0000" stroke-width="10.9"/><line x1="1715.06" y1="2557.59" x2="1763.14" y2="2605.68" stroke="#ff0000" stroke-width="10.9"/><line x1="1715.06" y1="2605.68" x2="1763.14" y2="2557.59" stroke="#ff0000" stroke-width="10.9"/>
<line x1="1898.92" y1="2800.74" x2="1966.92" y2="2800.74" stroke="#ff0000" stroke-width="10.9"/><line x1="1932.92" y1="2766.74" x2="1932.92" y2="2834.74" stroke="#ff0000" stroke-width="10.9"/><line x1="1908.88" y1="2776.7" x2="1956.96" y2="2824.78" stroke="#ff0000" stroke-width="10.9"/><line x1="1908.88" y1="2824.78" x2="1956.96" y2="2776.7" stroke="#ff0000" stroke-width="10.9"/>
<line x1="2092.74" y1="2903.57" x2="2160.74" y2="2903.57" stroke="#ff0000" stroke-width="10.9"/><line x1="2126.74" y1="2869.57" x2="2126.74" y2="2937.57" stroke="#ff0000" stroke-width="10.9"/><line x1="2102.7" y1="2879.53" x2="2150.78" y2="2927.61" stroke="#ff0000" stroke-width="10.9"/><line x1="2102.7" y1="2927.61" x2="2150.78" y2="2879.53" stroke="#ff0000" stroke-width="10.9"/>
<path d="M2126.74,2941.54 L1932.92,2902.78 L1739.1,2572.54 L1545.28,2425.41 L1351.46,2360.95 L1157.65,2359.36 L963.83,2299.25 L770.01,2363.32 L576.19,2374.39 L382.37,2356.2" fill="none" stroke="#000000" stroke-width="10.72" stroke-linecap="round" stroke-linejoin="round" stroke-dasharray="28.27 20.47"/>
<g stroke="#000000" clip-path="url(#bclip)"><line x1="576.19" y1="2291.34" x2="576.19" y2="2457.45" stroke-width="5.65"/><line x1="552.6" y1="2291.34" x2="599.79" y2="2291.34" stroke-width="5.46" stroke-linecap="round"/><line x1="552.6" y1="2457.45" x2="599.79" y2="2457.45" stroke-width="5.46" stroke-linecap="round"/><line x1="770.01" y1="2236.76" x2="770.01" y2="2489.88" stroke-width="5.65"/><line x1="746.42" y1="2236.76" x2="793.61" y2="2236.76" stroke-width="5.46" stroke-linecap="round"/><line x1="746.42" y1="2489.88" x2="793.61" y2="2489.88" stroke-width="5.46" stroke-linecap="round"/><line x1="963.83" y1="2241.11" x2="963.83" y2="2357.39" stroke-width="5.65"/><line x1="940.23" y1="2241.11" x2="987.42" y2="2241.11" stroke-width="5.46" stroke-linecap="round"/><line x1="940.23" y1="2357.39" x2="987.42" y2="2357.39" stroke-width="5.46" stroke-linecap="round"/><line x1="1157.65" y1="2269.98" x2="1157.65" y2="2448.75" stroke-width="5.65"/><line x1="1134.05" y1="2269.98" x2="1181.24" y2="2269.98" stroke-width="5.46" stroke-linecap="round"/><line x1="1134.05" y1="2448.75" x2="1181.24" y2="2448.75" stroke-width="5.46" stroke-linecap="round"/><line x1="1351.46" y1="2251" x2="1351.46" y2="2470.89" stroke-width="5.65"/><line x1="1327.87" y1="2251" x2="1375.06" y2="2251" stroke-width="5.46" stroke-linecap="round"/><line x1="1327.87" y1="2470.89" x2="1375.06" y2="2470.89" stroke-width="5.46" stroke-linecap="round"/><line x1="1545.28" y1="2280.66" x2="1545.28" y2="2570.17" stroke-width="5.65"/><line x1="1521.69" y1="2280.66" x2="1568.88" y2="2280.66" stroke-width="5.46" stroke-linecap="round"/><line x1="1521.69" y1="2570.17" x2="1568.88" y2="2570.17" stroke-width="5.46" stroke-linecap="round"/><line x1="1739.1" y1="2466.54" x2="1739.1" y2="2678.53" stroke-width="5.65"/><line x1="1715.51" y1="2466.54" x2="1762.7" y2="2466.54" stroke-width="5.46" stroke-linecap="round"/><line x1="1715.51" y1="2678.53" x2="1762.7" y2="2678.53" stroke-width="5.46" stroke-linecap="round"/><line x1="1932.92" y1="2823.68" x2="1932.92" y2="2981.88" stroke-width="5.65"/><line x1="1909.32" y1="2823.68" x2="1956.51" y2="2823.68" stroke-width="5.46" stroke-linecap="round"/><line x1="1909.32" y1="2981.88" x2="1956.51" y2="2981.88" stroke-width="5.46" stroke-linecap="round"/><line x1="2126.74" y1="2872.72" x2="2126.74" y2="3010.36" stroke-width="5.65"/><line x1="2103.14" y1="2872.72" x2="2150.33" y2="2872.72" stroke-width="5.46" stroke-linecap="round"/><line x1="2103.14" y1="3010.36" x2="2150.33" y2="3010.36" stroke-width="5.46" stroke-linecap="round"/></g>
<polygon points="358,2328.41 406.75,2328.41 411.14,2335.72 386.86,2383.99 377.89,2383.99 353.61,2335.72" fill="#000"/><polygon points="367.16,2339.23 397.58,2339.23 382.37,2369.85" fill="#00ffff"/>
<polygon points="551.82,2346.61 600.57,2346.61 604.95,2353.92 580.68,2402.18 571.71,2402.18 547.43,2353.92" fill="#000"/><polygon points="560.98,2357.43 591.4,2357.43 576.19,2388.04" fill="#00ffff"/>
<polygon points="745.64,2335.53 794.39,2335.53 798.77,2342.84 774.5,2391.11 765.53,2391.11 741.25,2342.84" fill="#000"/><polygon points="754.8,2346.35 785.22,2346.35 770.01,2376.97" fill="#00ffff"/>
<polygon points="939.45,2271.46 988.2,2271.46 992.59,2278.77 968.31,2327.04 959.34,2327.04 935.07,2278.77" fill="#000"/><polygon points="948.62,2282.28 979.04,2282.28 963.83,2312.9" fill="#00ffff"/>
<polygon points="1133.27,2331.58 1182.02,2331.58 1186.41,2338.89 1162.13,2387.15 1153.16,2387.15 1128.88,2338.89" fill="#000"/><polygon points="1142.44,2342.4 1172.86,2342.4 1157.65,2373.01" fill="#00ffff"/>
<polygon points="1327.09,2333.16 1375.84,2333.16 1380.23,2340.47 1355.95,2388.73 1346.98,2388.73 1322.7,2340.47" fill="#000"/><polygon points="1336.25,2343.98 1366.67,2343.98 1351.46,2374.6" fill="#00ffff"/>
<polygon points="1520.91,2397.62 1569.66,2397.62 1574.05,2404.94 1549.77,2453.2 1540.8,2453.2 1516.52,2404.94" fill="#000"/><polygon points="1530.07,2408.45 1560.49,2408.45 1545.28,2439.06" fill="#00ffff"/>
<polygon points="1714.73,2544.75 1763.48,2544.75 1767.86,2552.06 1743.59,2600.33 1734.62,2600.33 1710.34,2552.06" fill="#000"/><polygon points="1723.89,2555.57 1754.31,2555.57 1739.1,2586.19" fill="#00ffff"/>
<polygon points="1908.54,2874.99 1957.29,2874.99 1961.68,2882.31 1937.4,2930.57 1928.43,2930.57 1904.16,2882.31" fill="#000"/><polygon points="1917.71,2885.82 1948.13,2885.82 1932.92,2916.43" fill="#00ffff"/>
<polygon points="2102.36,2913.75 2151.11,2913.75 2155.5,2921.07 2131.22,2969.33 2122.25,2969.33 2097.97,2921.07" fill="#000"/><polygon points="2111.53,2924.57 2141.95,2924.57 2126.74,2955.19" fill="#00ffff"/>
<path d="M2126.74,2850.57 L1932.92,2896.45 L1739.1,2573.72 L1545.28,2519.94 L1351.46,2426.6 L1157.65,2442.42 L963.83,2440.84 L770.01,2476.04 L576.19,2455.87 L382.37,2356.2" fill="none" stroke="#ff8000" stroke-width="9.75" stroke-linejoin="round"/>
<g stroke="#ff8000" clip-path="url(#bclip)"><line x1="576.19" y1="2416.32" x2="576.19" y2="2495.42" stroke-width="5.65"/><line x1="556.98" y1="2416.32" x2="595.4" y2="2416.32" stroke-width="5.46" stroke-linecap="round"/><line x1="556.98" y1="2495.42" x2="595.4" y2="2495.42" stroke-width="5.46" stroke-linecap="round"/><line x1="770.01" y1="2466.54" x2="770.01" y2="2485.53" stroke-width="5.65"/><line x1="750.8" y1="2466.54" x2="789.22" y2="2466.54" stroke-width="5.46" stroke-linecap="round"/><line x1="750.8" y1="2485.53" x2="789.22" y2="2485.53" stroke-width="5.46" stroke-linecap="round"/><line x1="963.83" y1="2372.34" x2="963.83" y2="2509.34" stroke-width="5.65"/><line x1="944.62" y1="2372.34" x2="983.04" y2="2372.34" stroke-width="5.46" stroke-linecap="round"/><line x1="944.62" y1="2509.34" x2="983.04" y2="2509.34" stroke-width="5.46" stroke-linecap="round"/><line x1="1157.65" y1="2410.78" x2="1157.65" y2="2474.06" stroke-width="5.65"/><line x1="1138.44" y1="2410.78" x2="1176.85" y2="2410.78" stroke-width="5.46" stroke-linecap="round"/><line x1="1138.44" y1="2474.06" x2="1176.85" y2="2474.06" stroke-width="5.46" stroke-linecap="round"/><line x1="1351.46" y1="2418.69" x2="1351.46" y2="2434.51" stroke-width="5.65"/><line x1="1332.26" y1="2418.69" x2="1370.67" y2="2418.69" stroke-width="5.46" stroke-linecap="round"/><line x1="1332.26" y1="2434.51" x2="1370.67" y2="2434.51" stroke-width="5.46" stroke-linecap="round"/><line x1="1545.28" y1="2470.89" x2="1545.28" y2="2568.98" stroke-width="5.65"/><line x1="1526.08" y1="2470.89" x2="1564.49" y2="2470.89" stroke-width="5.46" stroke-linecap="round"/><line x1="1526.08" y1="2568.98" x2="1564.49" y2="2568.98" stroke-width="5.46" stroke-linecap="round"/><line x1="1932.92" y1="2875.89" x2="1932.92" y2="2917.02" stroke-width="5.65"/><line x1="1913.71" y1="2875.89" x2="1952.13" y2="2875.89" stroke-width="5.46" stroke-linecap="round"/><line x1="1913.71" y1="2917.02" x2="1952.13" y2="2917.02" stroke-width="5.46" stroke-linecap="round"/><line x1="2126.74" y1="2777.8" x2="2126.74" y2="2923.35" stroke-width="5.65"/><line x1="2107.53" y1="2777.8" x2="2145.94" y2="2777.8" stroke-width="5.46" stroke-linecap="round"/><line x1="2107.53" y1="2923.35" x2="2145.94" y2="2923.35" stroke-width="5.46" stroke-linecap="round"/></g>
<circle cx="382.37" cy="2356.2" r="18.87" fill="#ffff00" stroke="#000" stroke-width="10.04"/>
<circle cx="576.19" cy="2455.87" r="18.87" fill="#ffff00" stroke="#000" stroke-width="10.04"/>
<circle cx="770.01" cy="2476.04" r="18.87" fill="#ffff00" stroke="#000" stroke-width="10.04"/>
<circle cx="963.83" cy="2440.84" r="18.87" fill="#ffff00" stroke="#000" stroke-width="10.04"/>
<circle cx="1157.65" cy="2442.42" r="18.87" fill="#ffff00" stroke="#000" stroke-width="10.04"/>
<circle cx="1351.46" cy="2426.6" r="18.87" fill="#ffff00" stroke="#000" stroke-width="10.04"/>
<circle cx="1545.28" cy="2519.94" r="18.87" fill="#ffff00" stroke="#000" stroke-width="10.04"/>
<circle cx="1739.1" cy="2573.72" r="18.87" fill="#ffff00" stroke="#000" stroke-width="10.04"/>
<circle cx="1932.92" cy="2896.45" r="18.87" fill="#ffff00" stroke="#000" stroke-width="10.04"/>
<circle cx="2126.74" cy="2850.57" r="18.87" fill="#ffff00" stroke="#000" stroke-width="10.04"/>
<path d="M2126.74,3045.16 L1932.92,2973.97 L1739.1,2878.26 L1545.28,2654.41 L1351.46,2488.3 L1157.65,2436.88 L963.83,2443.21 L770.01,2466.15 L576.19,2366.48 L382.37,2356.2" fill="none" stroke="#00b0b0" stroke-width="10.72" stroke-linecap="round" stroke-linejoin="round" stroke-dasharray="28.27 20.47"/>
<g stroke="#00b0b0" clip-path="url(#bclip)"><line x1="576.19" y1="2304.78" x2="576.19" y2="2428.18" stroke-width="5.65"/><line x1="552.6" y1="2304.78" x2="599.79" y2="2304.78" stroke-width="5.46" stroke-linecap="round"/><line x1="552.6" y1="2428.18" x2="599.79" y2="2428.18" stroke-width="5.46" stroke-linecap="round"/><line x1="770.01" y1="2421.85" x2="770.01" y2="2510.44" stroke-width="5.65"/><line x1="746.42" y1="2421.85" x2="793.61" y2="2421.85" stroke-width="5.46" stroke-linecap="round"/><line x1="746.42" y1="2510.44" x2="793.61" y2="2510.44" stroke-width="5.46" stroke-linecap="round"/><line x1="963.83" y1="2403.66" x2="963.83" y2="2482.76" stroke-width="5.65"/><line x1="940.23" y1="2403.66" x2="987.42" y2="2403.66" stroke-width="5.46" stroke-linecap="round"/><line x1="940.23" y1="2482.76" x2="987.42" y2="2482.76" stroke-width="5.46" stroke-linecap="round"/><line x1="1157.65" y1="2364.9" x2="1157.65" y2="2508.86" stroke-width="5.65"/><line x1="1134.05" y1="2364.9" x2="1181.24" y2="2364.9" stroke-width="5.46" stroke-linecap="round"/><line x1="1134.05" y1="2508.86" x2="1181.24" y2="2508.86" stroke-width="5.46" stroke-linecap="round"/><line x1="1351.46" y1="2396.54" x2="1351.46" y2="2580.05" stroke-width="5.65"/><line x1="1327.87" y1="2396.54" x2="1375.06" y2="2396.54" stroke-width="5.46" stroke-linecap="round"/><line x1="1327.87" y1="2580.05" x2="1375.06" y2="2580.05" stroke-width="5.46" stroke-linecap="round"/><line x1="1545.28" y1="2601.41" x2="1545.28" y2="2707.4" stroke-width="5.65"/><line x1="1521.69" y1="2601.41" x2="1568.88" y2="2601.41" stroke-width="5.46" stroke-linecap="round"/><line x1="1521.69" y1="2707.4" x2="1568.88" y2="2707.4" stroke-width="5.46" stroke-linecap="round"/><line x1="1739.1" y1="2830.01" x2="1739.1" y2="2926.51" stroke-width="5.65"/><line x1="1715.51" y1="2830.01" x2="1762.7" y2="2830.01" stroke-width="5.46" stroke-linecap="round"/><line x1="1715.51" y1="2926.51" x2="1762.7" y2="2926.51" stroke-width="5.46" stroke-linecap="round"/><line x1="1932.92" y1="2943.91" x2="1932.92" y2="3004.03" stroke-width="5.65"/><line x1="1909.32" y1="2943.91" x2="1956.51" y2="2943.91" stroke-width="5.46" stroke-linecap="round"/><line x1="1909.32" y1="3004.03" x2="1956.51" y2="3004.03" stroke-width="5.46" stroke-linecap="round"/><line x1="2126.74" y1="3029.34" x2="2126.74" y2="3060.98" stroke-width="5.65"/><line x1="2103.14" y1="3029.34" x2="2150.33" y2="3029.34" stroke-width="5.46" stroke-linecap="round"/><line x1="2103.14" y1="3060.98" x2="2150.33" y2="3060.98" stroke-width="5.46" stroke-linecap="round"/></g>
<polygon points="357.8,2327.53 406.94,2327.53 411.04,2331.63 411.04,2380.77 406.94,2384.86 357.8,2384.86 353.71,2380.77 353.71,2331.63" fill="#000"/><rect x="364.24" y="2338.06" width="36.27" height="36.27" fill="#00b0b0"/>
<polygon points="551.62,2337.82 600.76,2337.82 604.86,2341.91 604.86,2391.05 600.76,2395.15 551.62,2395.15 547.53,2391.05 547.53,2341.91" fill="#000"/><rect x="558.06" y="2348.35" width="36.27" height="36.27" fill="#00b0b0"/>
<polygon points="745.44,2437.48 794.58,2437.48 798.68,2441.58 798.68,2490.72 794.58,2494.81 745.44,2494.81 741.35,2490.72 741.35,2441.58" fill="#000"/><rect x="751.88" y="2448.01" width="36.27" height="36.27" fill="#00b0b0"/>
<polygon points="939.26,2414.55 988.4,2414.55 992.49,2418.64 992.49,2467.78 988.4,2471.88 939.26,2471.88 935.16,2467.78 935.16,2418.64" fill="#000"/><rect x="945.69" y="2425.07" width="36.27" height="36.27" fill="#00b0b0"/>
<polygon points="1133.08,2408.22 1182.22,2408.22 1186.31,2412.31 1186.31,2461.45 1182.22,2465.55 1133.08,2465.55 1128.98,2461.45 1128.98,2412.31" fill="#000"/><rect x="1139.51" y="2418.75" width="36.27" height="36.27" fill="#00b0b0"/>
<polygon points="1326.89,2459.63 1376.03,2459.63 1380.13,2463.73 1380.13,2512.87 1376.03,2516.96 1326.89,2516.96 1322.8,2512.87 1322.8,2463.73" fill="#000"/><rect x="1333.33" y="2470.16" width="36.27" height="36.27" fill="#00b0b0"/>
<polygon points="1520.71,2625.74 1569.85,2625.74 1573.95,2629.84 1573.95,2678.98 1569.85,2683.07 1520.71,2683.07 1516.62,2678.98 1516.62,2629.84" fill="#000"/><rect x="1527.15" y="2636.27" width="36.27" height="36.27" fill="#00b0b0"/>
<polygon points="1714.53,2849.59 1763.67,2849.59 1767.77,2853.69 1767.77,2902.83 1763.67,2906.92 1714.53,2906.92 1710.44,2902.83 1710.44,2853.69" fill="#000"/><rect x="1720.97" y="2860.12" width="36.27" height="36.27" fill="#00b0b0"/>
<polygon points="1908.35,2945.31 1957.49,2945.31 1961.58,2949.4 1961.58,2998.54 1957.49,3002.64 1908.35,3002.64 1904.25,2998.54 1904.25,2949.4" fill="#000"/><rect x="1914.78" y="2955.84" width="36.27" height="36.27" fill="#00b0b0"/>
<polygon points="2102.17,3016.5 2151.31,3016.5 2155.4,3020.59 2155.4,3069.73 2151.31,3073.83 2102.17,3073.83 2098.07,3069.73 2098.07,3020.59" fill="#000"/><rect x="2108.6" y="3027.03" width="36.27" height="36.27" fill="#00b0b0"/>
<path d="M2126.74,3114.77 L1932.92,3112.4 L1739.1,3094.2 L1545.28,3011.15 L1351.46,2937.59 L1157.65,2799.95 L963.83,2696.33 L770.01,2643.33 L576.19,2498.58 L382.37,2356.2" fill="none" stroke="#0000ff" stroke-width="10.72" stroke-linecap="round" stroke-linejoin="round" stroke-dasharray="28.27 20.47"/>
<g stroke="#0000ff" clip-path="url(#bclip)"><line x1="576.19" y1="2384.68" x2="576.19" y2="2612.48" stroke-width="5.65"/><line x1="552.6" y1="2384.68" x2="599.79" y2="2384.68" stroke-width="5.46" stroke-linecap="round"/><line x1="552.6" y1="2612.48" x2="599.79" y2="2612.48" stroke-width="5.46" stroke-linecap="round"/><line x1="770.01" y1="2470.1" x2="770.01" y2="2816.56" stroke-width="5.65"/><line x1="746.42" y1="2470.1" x2="793.61" y2="2470.1" stroke-width="5.46" stroke-linecap="round"/><line x1="746.42" y1="2816.56" x2="793.61" y2="2816.56" stroke-width="5.46" stroke-linecap="round"/><line x1="963.83" y1="2599.83" x2="963.83" y2="2792.83" stroke-width="5.65"/><line x1="940.23" y1="2599.83" x2="987.42" y2="2599.83" stroke-width="5.46" stroke-linecap="round"/><line x1="940.23" y1="2792.83" x2="987.42" y2="2792.83" stroke-width="5.46" stroke-linecap="round"/><line x1="1157.65" y1="2751.7" x2="1157.65" y2="2848.2" stroke-width="5.65"/><line x1="1134.05" y1="2751.7" x2="1181.24" y2="2751.7" stroke-width="5.46" stroke-linecap="round"/><line x1="1134.05" y1="2848.2" x2="1181.24" y2="2848.2" stroke-width="5.46" stroke-linecap="round"/><line x1="1351.46" y1="2900.41" x2="1351.46" y2="2974.76" stroke-width="5.65"/><line x1="1327.87" y1="2900.41" x2="1375.06" y2="2900.41" stroke-width="5.46" stroke-linecap="round"/><line x1="1327.87" y1="2974.76" x2="1375.06" y2="2974.76" stroke-width="5.46" stroke-linecap="round"/><line x1="1545.28" y1="2963.69" x2="1545.28" y2="3058.61" stroke-width="5.65"/><line x1="1521.69" y1="2963.69" x2="1568.88" y2="2963.69" stroke-width="5.46" stroke-linecap="round"/><line x1="1521.69" y1="3058.61" x2="1568.88" y2="3058.61" stroke-width="5.46" stroke-linecap="round"/><line x1="1739.1" y1="3086.29" x2="1739.1" y2="3102.11" stroke-width="5.65"/><line x1="1715.51" y1="3086.29" x2="1762.7" y2="3086.29" stroke-width="5.46" stroke-linecap="round"/><line x1="1715.51" y1="3102.11" x2="1762.7" y2="3102.11" stroke-width="5.46" stroke-linecap="round"/><line x1="1932.92" y1="3108.44" x2="1932.92" y2="3116.35" stroke-width="5.65"/><line x1="1909.32" y1="3108.44" x2="1956.51" y2="3108.44" stroke-width="5.46" stroke-linecap="round"/><line x1="1909.32" y1="3116.35" x2="1956.51" y2="3116.35" stroke-width="5.46" stroke-linecap="round"/><line x1="2126.74" y1="3110.81" x2="2126.74" y2="3118.72" stroke-width="5.65"/><line x1="2103.14" y1="3110.81" x2="2150.33" y2="3110.81" stroke-width="5.46" stroke-linecap="round"/><line x1="2103.14" y1="3118.72" x2="2150.33" y2="3118.72" stroke-width="5.46" stroke-linecap="round"/></g>
<circle cx="382.37" cy="2356.2" r="23.74" fill="#0000ff" stroke="#000" stroke-width="10.04"/>
<circle cx="576.19" cy="2498.58" r="23.74" fill="#0000ff" stroke="#000" stroke-width="10.04"/>
<circle cx="770.01" cy="2643.33" r="23.74" fill="#0000ff" stroke="#000" stroke-width="10.04"/>
<circle cx="963.83" cy="2696.33" r="23.74" fill="#0000ff" stroke="#000" stroke-width="10.04"/>
<circle cx="1157.65" cy="2799.95" r="23.74" fill="#0000ff" stroke="#000" stroke-width="10.04"/>
<circle cx="1351.46" cy="2937.59" r="23.74" fill="#0000ff" stroke="#000" stroke-width="10.04"/>
<circle cx="1545.28" cy="3011.15" r="23.74" fill="#0000ff" stroke="#000" stroke-width="10.04"/>
<circle cx="1739.1" cy="3094.2" r="23.74" fill="#0000ff" stroke="#000" stroke-width="10.04"/>
<circle cx="1932.92" cy="3112.4" r="23.74" fill="#0000ff" stroke="#000" stroke-width="10.04"/>
<circle cx="2126.74" cy="3114.77" r="23.74" fill="#0000ff" stroke="#000" stroke-width="10.04"/>
<text x="798.45" y="83.7" font-family="'Liberation Sans', Arial, sans-serif" font-size="84.3" font-weight="bold" textLength="932.7" lengthAdjust="spacingAndGlyphs" xml:space="preserve">MK1 infected MP 104 wpi</text>
<text x="0" y="0" transform="translate(89 936.1) rotate(-90)" font-family="'Liberation Sans', Arial, sans-serif" font-size="84.3" font-weight="bold" textLength="616.96" lengthAdjust="spacingAndGlyphs" xml:space="preserve">INFECTIVITY (%)</text>
<text x="393.01" y="1392.9" font-family="'Liberation Sans', Arial, sans-serif" font-size="84.16" font-weight="bold" textLength="1738.95" lengthAdjust="spacingAndGlyphs" xml:space="preserve">X DILUTION  OF MACAQUE MONKEY PLASMA</text>
<line x1="275.1" y1="1521.1" x2="352.7" y2="1521.1" stroke="#0000ff" stroke-width="10.2" stroke-linecap="round"/><line x1="372.1" y1="1521.1" x2="378.9" y2="1521.1" stroke="#0000ff" stroke-width="10.2" stroke-linecap="round"/>
<circle cx="327.3" cy="1521.2" r="24.35" fill="#0000ff" stroke="#000" stroke-width="10.3"/>
<line x1="899.95" y1="1520.9" x2="978.95" y2="1520.9" stroke="#00b0b0" stroke-width="10.1" stroke-linecap="round"/><line x1="996.85" y1="1520.9" x2="1004.85" y2="1520.9" stroke="#00b0b0" stroke-width="10.1" stroke-linecap="round"/>
<polygon points="926.7,1491.5 977.1,1491.5 981.3,1495.7 981.3,1546.1 977.1,1550.3 926.7,1550.3 922.5,1546.1 922.5,1495.7" fill="#000"/><rect x="933.3" y="1502.3" width="37.2" height="37.2" fill="#00b0b0"/>
<line x1="275" y1="1688" x2="352.8" y2="1688" stroke="#ff0000" stroke-width="10" stroke-linecap="round"/><line x1="372" y1="1688" x2="379" y2="1688" stroke="#ff0000" stroke-width="10" stroke-linecap="round"/>
<line x1="297" y1="1688" x2="357" y2="1688" stroke="#ff0000" stroke-width="10"/><line x1="327" y1="1658" x2="327" y2="1718" stroke="#ff0000" stroke-width="10"/><line x1="305.79" y1="1666.79" x2="348.21" y2="1709.21" stroke="#ff0000" stroke-width="10"/><line x1="305.79" y1="1709.21" x2="348.21" y2="1666.79" stroke="#ff0000" stroke-width="10"/>
<line x1="895.9" y1="1688" x2="975" y2="1688" stroke="#000000" stroke-width="10" stroke-linecap="round"/><line x1="994" y1="1688" x2="1001.2" y2="1688" stroke="#000000" stroke-width="10" stroke-linecap="round"/>
<polygon points="923.6,1658 973.6,1658 978.1,1665.5 953.2,1715 944,1715 919.1,1665.5" fill="#000"/><polygon points="933,1669.1 964.2,1669.1 948.6,1700.5" fill="#00ffff"/>
<line x1="1482" y1="1688.2" x2="1587.1" y2="1688.2" stroke="#ff8000" stroke-width="9.8" stroke-linecap="round"/>
<circle cx="1534.1" cy="1688.2" r="19.35" fill="#ffff00" stroke="#000" stroke-width="10.3"/>
<text x="437.44" y="1547.9" font-family="'Liberation Sans', Arial, sans-serif" font-size="84.16" textLength="401.39" lengthAdjust="spacingAndGlyphs" xml:space="preserve">MK1(9500)</text>
<text x="1063.64" y="1547.9" font-family="'Liberation Sans', Arial, sans-serif" font-size="84.16" textLength="392.59" lengthAdjust="spacingAndGlyphs" xml:space="preserve">#818 (380)</text>
<text x="438.46" y="1713.8" font-family="'Liberation Sans', Arial, sans-serif" font-size="84.16" textLength="425.28" lengthAdjust="spacingAndGlyphs" xml:space="preserve">DENT (150)</text>
<text x="1060.44" y="1713.8" font-family="'Liberation Sans', Arial, sans-serif" font-size="84.16" textLength="373.42" lengthAdjust="spacingAndGlyphs" xml:space="preserve">DNT (130)</text>
<text x="1645.39" y="1713.8" font-family="'Liberation Sans', Arial, sans-serif" font-size="84.16" textLength="380.71" lengthAdjust="spacingAndGlyphs" xml:space="preserve">DEN (250)</text>
<text x="1099.53" y="1951.1" font-family="'Liberation Serif', 'Times New Roman', serif" font-size="84" textLength="30.08" lengthAdjust="spacingAndGlyphs" xml:space="preserve">(</text>
<text x="1129.46" y="1951.1" font-family="'Liberation Serif', 'Times New Roman', serif" font-size="84" font-weight="bold" textLength="39.44" lengthAdjust="spacingAndGlyphs" xml:space="preserve">a</text>
<text x="1169.96" y="1951.1" font-family="'Liberation Serif', 'Times New Roman', serif" font-size="84" textLength="30.34" lengthAdjust="spacingAndGlyphs" xml:space="preserve">)</text>
<text x="825.59" y="2137.7" font-family="'Liberation Sans', Arial, sans-serif" font-size="82.41" font-weight="bold" textLength="876.83" lengthAdjust="spacingAndGlyphs" xml:space="preserve">#818 infected MP 51 wpi</text>
<text x="0" y="0" transform="translate(114.8 2967.26) rotate(-90)" font-family="'Liberation Sans', Arial, sans-serif" font-size="81.98" font-weight="bold" textLength="600.52" lengthAdjust="spacingAndGlyphs" xml:space="preserve">INFECTIVITY (%)</text>
<text x="412.13" y="3408.8" font-family="'Liberation Sans', Arial, sans-serif" font-size="82.85" font-weight="bold" textLength="1699.69" lengthAdjust="spacingAndGlyphs" xml:space="preserve">X DILUTION  OF MACAQUE MONKEY PLASMA</text>
<line x1="184.5" y1="3536.5" x2="260.3" y2="3536.5" stroke="#0000ff" stroke-width="10.6" stroke-linecap="round"/><line x1="280.4" y1="3536.5" x2="285.7" y2="3536.5" stroke="#0000ff" stroke-width="10.6" stroke-linecap="round"/>
<circle cx="235.6" cy="3536.8" r="23.74" fill="#0000ff" stroke="#000" stroke-width="10.04"/>
<line x1="807.35" y1="3536.5" x2="882.55" y2="3536.5" stroke="#00b0b0" stroke-width="10.9" stroke-linecap="round"/><line x1="902.45" y1="3536.5" x2="908.55" y2="3536.5" stroke="#00b0b0" stroke-width="10.9" stroke-linecap="round"/>
<polygon points="833.53,3508.14 882.67,3508.14 886.76,3512.23 886.76,3561.37 882.67,3565.47 833.53,3565.47 829.44,3561.37 829.44,3512.23" fill="#000"/><rect x="839.97" y="3518.66" width="36.27" height="36.27" fill="#00b0b0"/>
<line x1="185.55" y1="3699.9" x2="264.55" y2="3699.9" stroke="#ff0000" stroke-width="10.9" stroke-linecap="round"/><line x1="280.75" y1="3699.9" x2="286.45" y2="3699.9" stroke="#ff0000" stroke-width="10.9" stroke-linecap="round"/>
<line x1="202.5" y1="3699.9" x2="270.5" y2="3699.9" stroke="#ff0000" stroke-width="10.9"/><line x1="236.5" y1="3665.9" x2="236.5" y2="3733.9" stroke="#ff0000" stroke-width="10.9"/><line x1="212.46" y1="3675.86" x2="260.54" y2="3723.94" stroke="#ff0000" stroke-width="10.9"/><line x1="212.46" y1="3723.94" x2="260.54" y2="3675.86" stroke="#ff0000" stroke-width="10.9"/>
<line x1="816.45" y1="3700.4" x2="891.55" y2="3700.4" stroke="#000000" stroke-width="10.9" stroke-linecap="round"/><line x1="911.35" y1="3700.4" x2="916.55" y2="3700.4" stroke="#000000" stroke-width="10.9" stroke-linecap="round"/>
<polygon points="842.12,3670.71 890.88,3670.71 895.26,3678.03 870.99,3726.29 862.01,3726.29 837.74,3678.03" fill="#000"/><polygon points="851.29,3681.53 881.71,3681.53 866.5,3712.15" fill="#00ffff"/>
<line x1="1395.45" y1="3700.4" x2="1495.55" y2="3700.4" stroke="#ff8000" stroke-width="10.9" stroke-linecap="round"/>
<circle cx="1445.5" cy="3700.1" r="19.35" fill="#ffff00" stroke="#000" stroke-width="10.3"/>
<text x="342.58" y="3561.8" font-family="'Liberation Sans', Arial, sans-serif" font-size="82.41" textLength="393.25" lengthAdjust="spacingAndGlyphs" xml:space="preserve">MK1(2600)</text>
<text x="966.65" y="3561.8" font-family="'Liberation Sans', Arial, sans-serif" font-size="82.41" textLength="382.25" lengthAdjust="spacingAndGlyphs" xml:space="preserve">#818 (350)</text>
<text x="344.6" y="3725.8" font-family="'Liberation Sans', Arial, sans-serif" font-size="82.41" textLength="416.24" lengthAdjust="spacingAndGlyphs" xml:space="preserve">DENT (140)</text>
<text x="974.68" y="3725.8" font-family="'Liberation Sans', Arial, sans-serif" font-size="82.41" textLength="365.27" lengthAdjust="spacingAndGlyphs" xml:space="preserve">DNT (160)</text>
<text x="1553.55" y="3725.8" font-family="'Liberation Sans', Arial, sans-serif" font-size="82.41" textLength="371.22" lengthAdjust="spacingAndGlyphs" xml:space="preserve">DEN (160)</text>
<text x="1097.8" y="3921.3" font-family="'Liberation Serif', 'Times New Roman', serif" font-size="84.5" textLength="30.34" lengthAdjust="spacingAndGlyphs" xml:space="preserve">(</text>
<text x="1128.96" y="3921.3" font-family="'Liberation Serif', 'Times New Roman', serif" font-size="84.5" font-weight="bold" textLength="45.56" lengthAdjust="spacingAndGlyphs" xml:space="preserve">b</text>
<text x="1171.95" y="3921.3" font-family="'Liberation Serif', 'Times New Roman', serif" font-size="84.5" textLength="30.47" lengthAdjust="spacingAndGlyphs" xml:space="preserve">)</text>
</svg>
</body></html>
